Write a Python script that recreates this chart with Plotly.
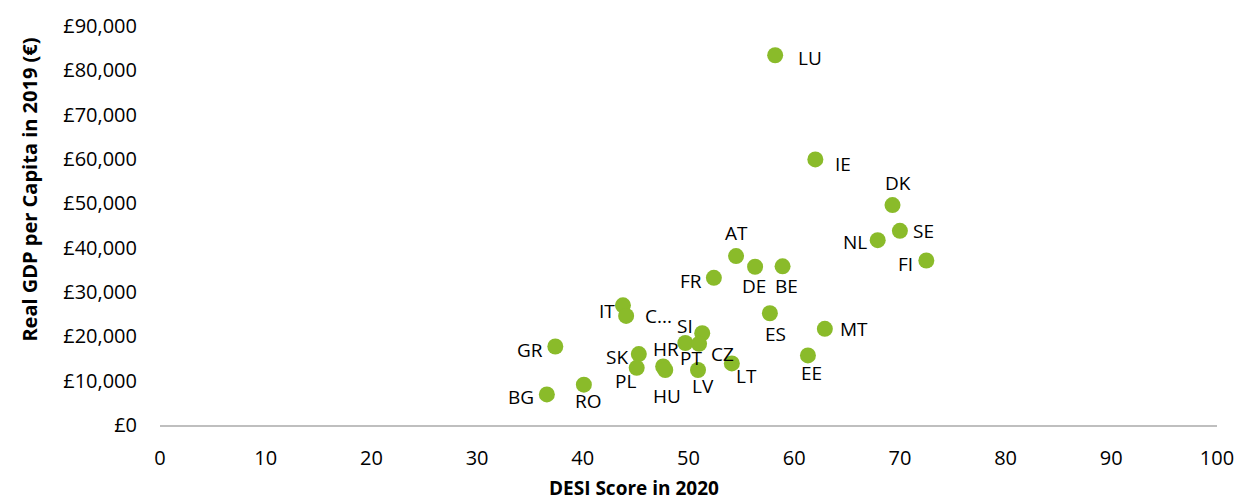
import plotly.graph_objects as go

countries = ["LU", "IE", "DK", "SE", "NL", "FI", "AT", "DE", "BE", "FR",
             "MT", "EE", "ES", "IT", "C...", "GR", "SI", "HR", "PT", "CZ",
             "SK", "PL", "HU", "LV", "LT", "RO", "BG"]
desi_2020 = [58.2, 62.0, 69.3, 70.0, 67.9, 72.5, 54.5, 56.3, 58.9, 52.4,
             62.9, 61.3, 57.7, 43.8, 44.1, 37.4, 51.3, 47.6, 49.7, 51.0,
             45.3, 45.1, 47.8, 50.9, 54.1, 40.1, 36.6]
gdp_2019 = [83400, 59900, 49600, 43800, 41700, 37100, 38100, 35700, 35800, 33200,
            21700, 15700, 25200, 27000, 24600, 17700, 20700, 13200, 18500, 18300,
            16000, 12900, 12400, 12400, 13900, 9100, 6900]

x_ticks = [0, 10, 20, 30, 40, 50, 60, 70, 80, 90, 100]
y_ticks = [0, 10000, 20000, 30000, 40000, 50000, 60000, 70000, 80000, 90000]
y_ticktext = ["£{:,}".format(v) for v in y_ticks]

# label offsets (pixels, right / down) relative to the marker centre
label_offsets = {
    "LU": (35, 3), "IE": (28, 5), "DK": (5, -22), "SE": (24, 0), "NL": (-23, 2),
    "FI": (-21, 3), "AT": (0, -23), "DE": (-1, 19), "BE": (4, 20), "FR": (-23, 3),
    "MT": (29, 0), "EE": (4, 18), "ES": (6, 21), "IT": (-16, 6), "C...": (32, 0),
    "GR": (-25, 3), "SI": (-17, -7), "HR": (3, -17), "PT": (6, 15), "CZ": (23, 10),
    "SK": (-22, 3), "PL": (-11, 13), "HU": (2, 26), "LV": (5, 16), "LT": (15, 13),
    "RO": (5, 16), "BG": (-26, 3),
}

FONT = "Open Sans"
GREEN = "#8ABB2A"

fig = go.Figure()
fig.add_trace(go.Scatter(
    x=desi_2020, y=gdp_2019, mode="markers",
    marker=dict(color=GREEN, size=16, line=dict(width=0)),
    hoverinfo="skip", showlegend=False,
))

annotations = []
for c, xv, yv in zip(countries, desi_2020, gdp_2019):
    dx, dy = label_offsets[c]
    annotations.append(dict(
        x=xv, y=yv, xref="x", yref="y", text=c, showarrow=False,
        xshift=dx, yshift=-dy, xanchor="center", yanchor="middle",
        font=dict(family=FONT, size=19, color="#000000"),
    ))

annotations.append(dict(
    x=0.448, y=-0.159, xref="paper", yref="paper", text="<b>DESI Score in 2020</b>",
    showarrow=False, xanchor="center", yanchor="middle",
    font=dict(family=FONT, size=19, color="#000000"),
))
annotations.append(dict(
    x=-0.123, y=0.59, xref="paper", yref="paper",
    text="<b>Real GDP per Capita in 2019 (€)</b>",
    showarrow=False, xanchor="center", yanchor="middle", textangle=-90,
    font=dict(family=FONT, size=20, color="#000000"),
))

fig.update_layout(
    width=1254, height=502,
    margin=dict(l=160, r=37, t=22, b=77),
    paper_bgcolor="white", plot_bgcolor="white",
    font=dict(family=FONT, size=19, color="#000000"),
    annotations=annotations,
)
fig.update_xaxes(
    range=[0, 100], tickvals=x_ticks,
    showgrid=False, zeroline=False, showline=True, linecolor="#BFBFBF", linewidth=1.5,
    ticks="", ticklabelstandoff=14, tickfont=dict(family=FONT, size=20),
)
fig.update_yaxes(
    range=[0, 90000], tickvals=y_ticks, ticktext=y_ticktext,
    showgrid=False, zeroline=False, showline=False,
    ticks="", ticklabelstandoff=22, tickfont=dict(family=FONT, size=20),
)

fig.write_html("out.html", config={"displayModeBar": False},
               post_script="document.body.style.margin='0';")
